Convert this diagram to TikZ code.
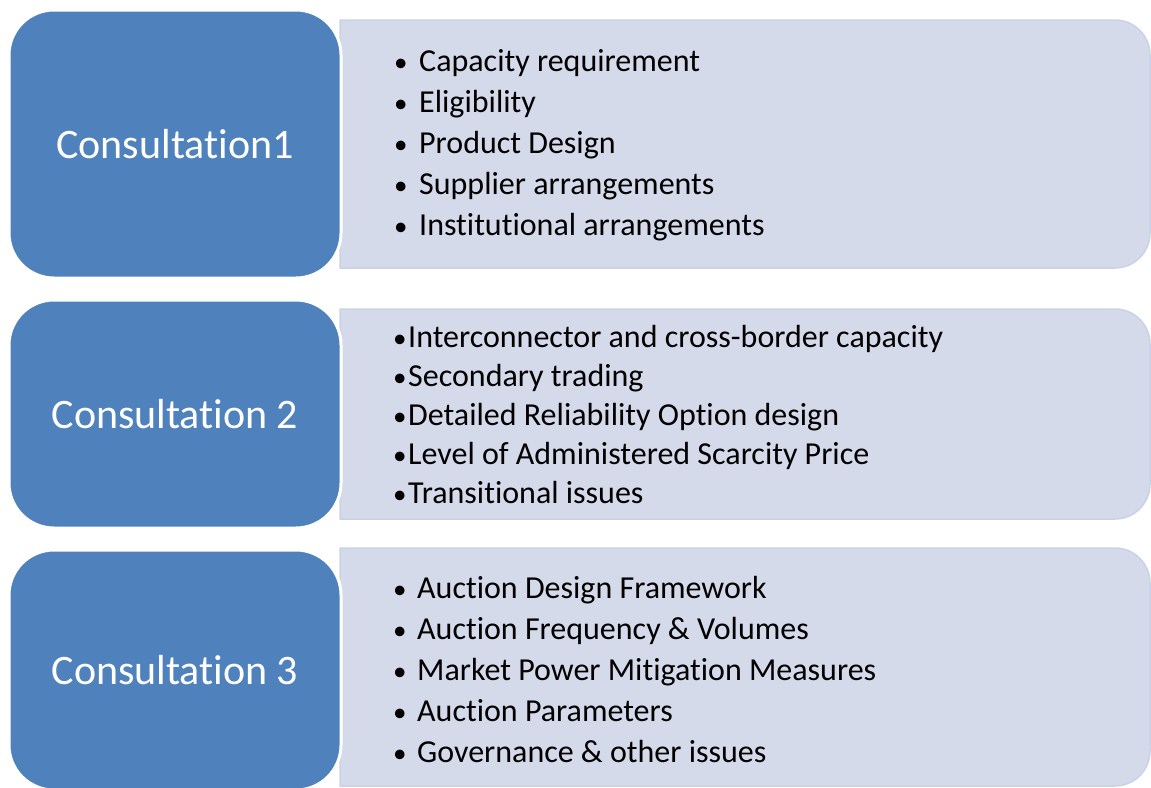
\documentclass[tikz,border=0pt]{standalone}
\usepackage{fontspec}
\setmainfont{Carlito}[Ligatures={NoCommon,NoContextual,NoRequired}, RawFeature={-liga;-clig;-calt;-dlig}]
\usetikzlibrary{positioning}
\definecolor{phaseblue}{HTML}{4F81BD}
\definecolor{panelfill}{HTML}{D4DAEA}
\definecolor{panelline}{HTML}{CAD2E5}

\newcommand{\itemdot}{{\fontsize{27}{30}\selectfont•}}

\begin{document}
\begin{tikzpicture}[x=1pt,y=-1pt]

\tikzset{phase/.style={fill=phaseblue, draw=white, line width=3pt, rounded corners=45pt, text=white, font=\fontsize{42}{46}\selectfont, minimum width=332pt, inner sep=0pt},
panel/.style={fill=panelfill, draw=panelline, line width=1.5pt},
item/.style={anchor=base west, inner sep=0pt, font=\fontsize{32}{38}\selectfont}}

\useasboundingbox (0,0) rectangle (1151,787);

% light panels, square on the left
\foreach \t/\b in {20/268, 309/519, 548/786}
  \filldraw[panel] (340,\t) [rounded corners=35pt] -- (1150,\t) -- (1150,\b) [sharp corners] -- (340,\b) -- cycle;

\node (con1) [phase, minimum height=268pt] at (175,144) {Consultation1};
\node (con2) [phase, minimum height=228pt] at (175,414) {Consultation 2};
\node (con3) [phase, minimum height=240pt] at (175,670) {Consultation 3};

\foreach \txt [count=\i] in {Capacity requirement, Eligibility, Product Design, Supplier arrangements, Institutional arrangements}
  \node (one\i) [item] at (394, 30+41*\i) {\makebox[25pt][l]{\itemdot}\txt};

\foreach \txt [count=\i] in {Interconnector and cross-border capacity, Secondary trading, Detailed Reliability Option design, Level of Administered Scarcity Price, Transitional issues}
  \node (two\i) [item] at (393, 308+39*\i) {\makebox[15pt][l]{\itemdot}\txt};

\foreach \txt [count=\i] in {Auction Design Framework, Auction Frequency \& Volumes, Market Power Mitigation Measures, Auction Parameters, Governance \& other issues}
  \node (three\i) [item] at (393, 557+41*\i) {\makebox[24pt][l]{\itemdot}\txt};

\end{tikzpicture}
\end{document}
